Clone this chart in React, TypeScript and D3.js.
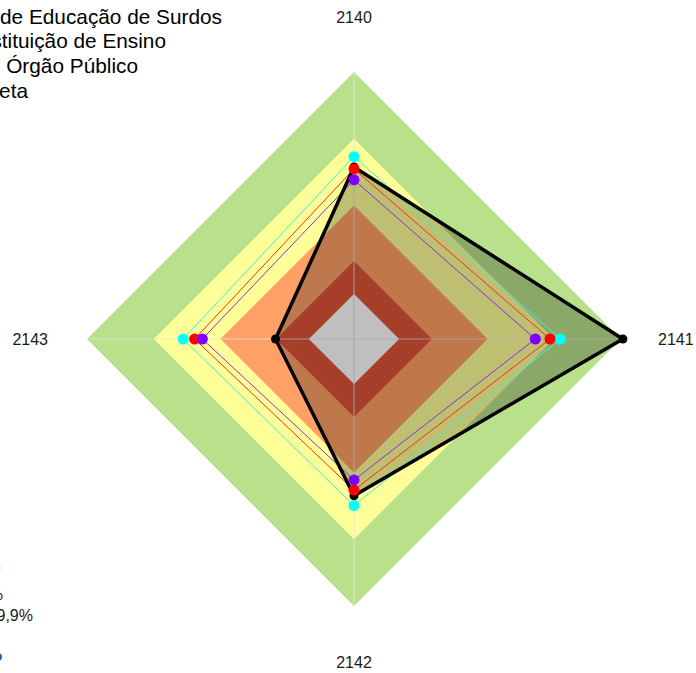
import React from "react";
import * as d3 from "d3";

const axes = ["2140", "2141", "2142", "2143"];
const seriesNames = [
  "Instituto Nacional de Educação de Surdos",
  "Instituição de Ensino",
  "Outro Órgão Público",
  "Direta",
];
const cyanValues = [68.3, 77.3, 62.4, 64.0];
const redValues = [63.7, 73.4, 56.6, 59.7];
const purpleValues = [59.6, 67.9, 52.8, 56.8];
const blackValues = [64.4, 100.7, 58.7, 29.4];
const bandLimits = [100, 75, 50, 29.2, 16.9];
const bandColors = ["#B9E08B", "#FFFF99", "#FFA066", "#DD5438", "#FFFFFF"];
const bandLegend = ["95% – 99%", "99% – 99,9%"];

const W = 696;
const H = 673;
const cx = 354;
const cy = 339;
const R = 267;

export default function App() {
  const r = d3.scaleLinear().domain([0, 100]).range([0, R]);
  const angle = (i: number) => (i * Math.PI) / 2;
  const pt = (v: number, i: number): [number, number] => [
    cx + r(v) * Math.sin(angle(i)),
    cy - r(v) * Math.cos(angle(i)),
  ];
  const closed = d3.line().curve(d3.curveLinearClosed);
  const poly = (vals: number[]) => closed(vals.map((v, i) => pt(v, i))) || "";
  const band = (v: number) => poly(axes.map(() => v));

  const thin = [
    { vals: cyanValues, line: "#40F0D8", dot: "#00FFFF" },
    { vals: redValues, line: "#FF2A1A", dot: "#FF0000" },
    { vals: purpleValues, line: "#8A2BE2", dot: "#8000FF" },
  ];

  const legendEnds = [222, 166, 138, 28];
  const labelPos = [
    { x: cx, y: 23, anchor: "middle" },
    { x: 658, y: 345, anchor: "start" },
    { x: cx, y: 668, anchor: "middle" },
    { x: 48, y: 345, anchor: "end" },
  ];

  return (
    <svg
      width={W}
      height={H}
      style={{ position: "absolute", left: 0, top: 0, background: "#fff" }}
      fontFamily="Liberation Sans, Arial, sans-serif"
    >
      {bandLimits.map((b, i) => (
        <path key={i} d={band(b)} fill={bandColors[i]} />
      ))}
      {axes.map((a, i) => {
        const [x, y] = pt(100, i);
        return (
          <line key={a} x1={cx} y1={cy} x2={x} y2={y} stroke="#E2E2E2" strokeOpacity={0.75} strokeWidth={1.2} />
        );
      })}
      <path d={poly(blackValues)} fill="#000" fillOpacity={0.25} />
      {thin.map((s, k) => (
        <path key={k} d={poly(s.vals)} fill="none" stroke={s.line} strokeWidth={1} />
      ))}
      <path d={poly(blackValues)} fill="none" stroke="#000" strokeWidth={3.5} strokeLinejoin="round" />
      {blackValues.map((v, i) => {
        const [x, y] = pt(v, i);
        return <circle key={"b" + i} cx={x} cy={y} r={4.5} fill="#000" />;
      })}
      {thin.map((s, k) =>
        s.vals.map((v, i) => {
          const [x, y] = pt(v, i);
          return <circle key={k + "-" + i} cx={x} cy={y} r={5.5} fill={s.dot} />;
        })
      )}
      {axes.map((a, i) => (
        <text key={a} x={labelPos[i].x} y={labelPos[i].y} fontSize={16} textAnchor={labelPos[i].anchor as any} fill="#1a1a1a">
          {a}
        </text>
      ))}
      {seriesNames.map((n, i) => (
        <text key={n} x={legendEnds[i]} y={23.5 + i * 24.7} fontSize={20.8} textAnchor="end" fill="#000">
          {n}
        </text>
      ))}
      <circle cx={-2} cy={568} r={3} fill="#CDEFFA" />
      {bandLegend.map((t, i) => (
        <text key={t} x={i === 0 ? 3 : 33} y={600 + i * 21} fontSize={16} textAnchor="end" fill="#1a1a1a">
          {t}
        </text>
      ))}
      <circle cx={-2} cy={657} r={4} fill="#2A5CAA" />
    </svg>
  );
}
